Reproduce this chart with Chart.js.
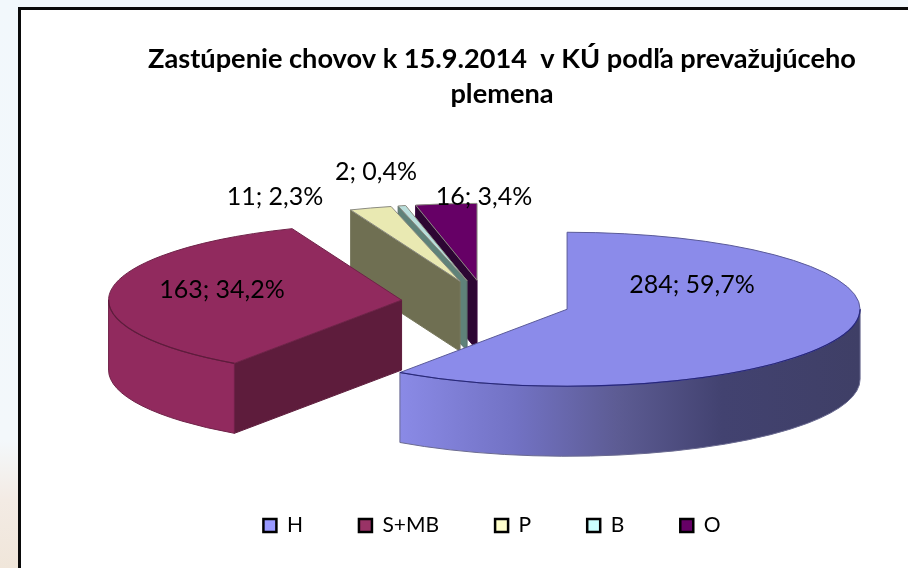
<!DOCTYPE html>
<html>
<head>
<meta charset="utf-8">
<script src="https://cdn.jsdelivr.net/npm/chart.js@4/dist/chart.umd.js"></script>
<style>
html,body{margin:0;padding:0;width:908px;height:568px;overflow:hidden;
background:linear-gradient(180deg,#f2f8fc 0,#f3f8fb 440px,#f3ebe4 500px,#f0e6da 568px);}
#frame{position:absolute;left:18px;top:7px;width:900px;height:570px;background:#fff;border:3px solid #0a0a0a;box-sizing:border-box;}
canvas{position:absolute;left:0;top:0;}
</style>
</head>
<body>
<div id="frame"></div>
<canvas id="c" width="908" height="568"></canvas>
<script>
const titleLines = ['Zastúpenie chovov k 15.9.2014  v KÚ podľa prevažujúceho', 'plemena'];
const categories = ['H', 'S+MB', 'P', 'B', 'O'];
const counts = [284, 163, 11, 2, 16];

const legendColors = ['#9999ff', '#993366', '#ffffcc', '#ccffff', '#660066'];
const topColors = ['#8b8bea', '#912a5e', '#e9e9b2', '#b9dedb', '#660066'];
const faceColors = ['#8b8bea', '#5e1c3c', '#6f6f52', '#5f8279', '#2d0633'];
const edgeColors = ['#4a4a90', '#5e1c3c', '#77775c', '#5a6e6a', '#3c0a40'];
const labelAnchors = [[692, 285], [222, 290], [275, 197], [376, 172], [484, 197]];

const RX = 293, RY = 77, DEPTH = 70, EXPLODE = 0.29;
const total = counts.reduce((a, b) => a + b, 0);
const labelText = i => counts[i] + '; ' + (counts[i] / total * 100).toFixed(1).replace('.', ',') + '%';

function geom(arc) {
  const m = (arc.startAngle + arc.endAngle) / 2;
  const ox = arc.x + EXPLODE * RX * Math.cos(m);
  const oy = arc.y + EXPLODE * RY * Math.sin(m);
  return {ox, oy};
}
function pt(g, a, d) { return [g.ox + RX * Math.cos(a), g.oy + RY * Math.sin(a) + (d || 0)]; }

function drawFace(ctx, g, a, color, edge) {
  const p = pt(g, a), ap = [g.ox, g.oy];
  ctx.beginPath();
  ctx.moveTo(ap[0], ap[1]);
  ctx.lineTo(p[0], p[1]);
  ctx.lineTo(p[0], p[1] + DEPTH);
  ctx.lineTo(ap[0], ap[1] + DEPTH);
  ctx.closePath();
  ctx.fillStyle = color;
  ctx.fill();
  ctx.strokeStyle = edge;
  ctx.lineWidth = 1;
  ctx.stroke();
}

function rimFill(ctx, i, g) {
  const grad = ctx.createLinearGradient(g.ox + RX * Math.cos(arcEnd(i)), 0, g.ox + RX, 0);
  if (i === 0) {
    grad.addColorStop(0, '#8a8ae6');
    grad.addColorStop(0.25, '#7272c4');
    grad.addColorStop(0.47, '#5d5c94');
    grad.addColorStop(0.70, '#424270');
    grad.addColorStop(1, '#3f3f66');
    return grad;
  }
  return topColors[i];
}
let arcsRef = [];
const arcEnd = i => arcsRef[i].endAngle;

const pie3d = {
  id: 'pie3d',
  afterLayout(chart) {
    chart.titleBlock.left += 32;
    chart.legend.left += 12;
  },
  beforeDatasetsDraw(chart) {
    const ctx = chart.ctx;
    const arcs = chart.getDatasetMeta(0).data;
    arcsRef = arcs;
    [4, 3, 2, 1, 0].forEach(i => {
      const arc = arcs[i];
      const g = geom(arc);
      const s = arc.startAngle, e = arc.endAngle;
      ctx.save();
      // cut face on the start side, when it faces the viewer
      if (Math.sin(s) < -0.001 || (Math.cos(s) < 0 && Math.sin(s) > 0)) {
        if (i !== 0) drawFace(ctx, g, s, faceColors[i], edgeColors[i]);
      }
      // outer rim, only its front half
      const lo = Math.max(s, 0), hi = Math.min(e, Math.PI);
      if (lo < hi) {
        ctx.beginPath();
        ctx.ellipse(g.ox, g.oy, RX, RY, 0, lo, hi, false);
        ctx.ellipse(g.ox, g.oy + DEPTH, RX, RY, 0, hi, lo, true);
        ctx.closePath();
        ctx.fillStyle = rimFill(ctx, i, g);
        ctx.fill();
        ctx.strokeStyle = i === 0 ? '#6a6a90' : '#6f2248';
        ctx.lineWidth = 1;
        ctx.stroke();
      }
      // top surface: the library's own arc element, flattened
      const saved = arc.options;
      arc.options = Object.assign({}, saved, {backgroundColor: topColors[i], borderWidth: 0, offset: 0, spacing: 0});
      ctx.save();
      ctx.translate(g.ox, g.oy);
      ctx.scale(RX / arc.outerRadius, RY / arc.outerRadius);
      ctx.translate(-arc.x, -arc.y);
      arc.draw(ctx);
      ctx.restore();
      arc.options = saved;
      // outline of the top surface
      ctx.beginPath();
      ctx.moveTo(g.ox, g.oy);
      ctx.ellipse(g.ox, g.oy, RX, RY, 0, s, e, false);
      ctx.closePath();
      ctx.strokeStyle = i === 0 ? '#5a5a98' : (i === 1 ? '#6f2248' : '#8a8a80');
      ctx.lineWidth = 1;
      ctx.stroke();
      if (lo < hi) {
        ctx.beginPath();
        ctx.ellipse(g.ox, g.oy, RX, RY, 0, lo, hi, false);
        ctx.strokeStyle = i === 0 ? '#26267e' : '#5e1c3c';
        ctx.lineWidth = 1.2;
        ctx.stroke();
      }
      ctx.restore();
    });
    return false;
  },
  afterDraw(chart) {
    const ctx = chart.ctx;
    ctx.save();
    ctx.font = '25px Lato';
    ctx.fillStyle = '#000';
    ctx.textAlign = 'center';
    ctx.textBaseline = 'middle';
    counts.forEach((v, i) => ctx.fillText(labelText(i), labelAnchors[i][0], labelAnchors[i][1]));
    ctx.restore();
  }
};

new Chart(document.getElementById('c'), {
  type: 'pie',
  data: {labels: categories, datasets: [{data: counts, backgroundColor: legendColors, borderWidth: 0}]},
  options: {
    responsive: false,
    animation: false,
    rotation: 0,
    layout: {padding: {left: 64, right: 0, top: 42, bottom: 22}},
    plugins: {
      tooltip: {enabled: false},
      title: {
        display: true,
        text: titleLines,
        color: '#000',
        font: {family: 'Lato', size: 27.2, weight: 'bold', lineHeight: 1.29},
        padding: {top: 0, bottom: 34}
      },
      legend: {
        position: 'bottom',
        labels: {
          boxWidth: 13, boxHeight: 13, padding: 56,
          color: '#000',
          font: {family: 'Lato', size: 21},
          generateLabels: () => categories.map((c, i) => ({
            text: c, fillStyle: legendColors[i], strokeStyle: '#000', lineWidth: 2.5, index: i, hidden: false
          }))
        }
      }
    }
  },
  plugins: [pie3d]
});
</script>
</body>
</html>
